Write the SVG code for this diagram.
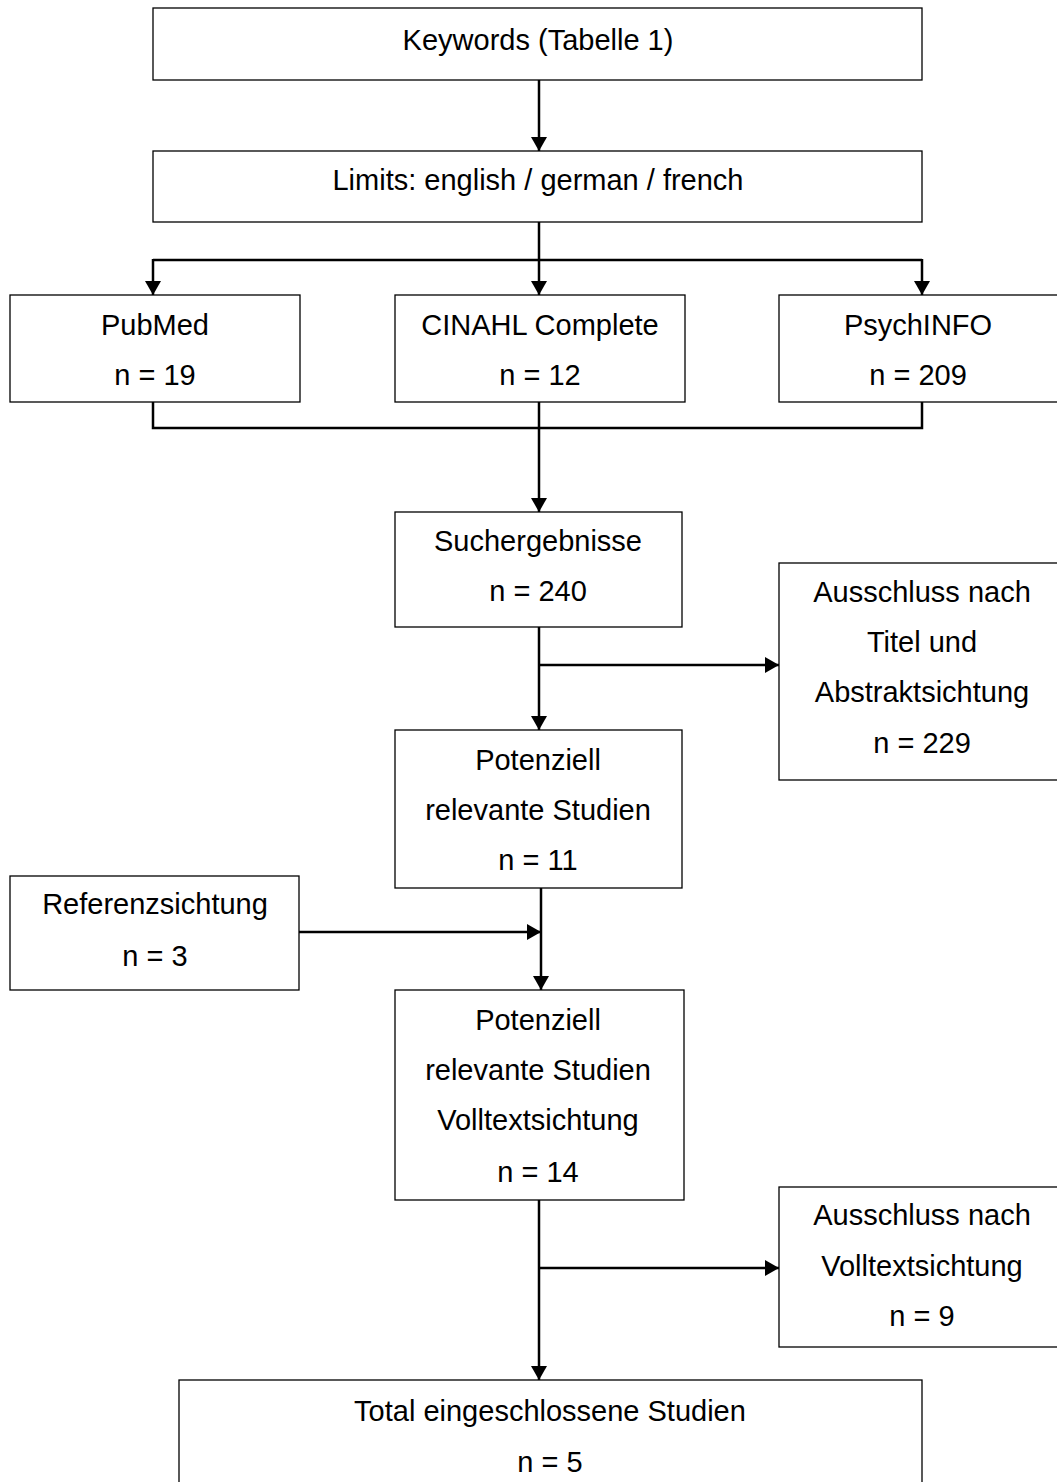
<svg xmlns="http://www.w3.org/2000/svg" width="1057" height="1482" viewBox="0 0 1057 1482">
<style>
.box{fill:#fff;stroke:#000;stroke-width:1.3}
.t{font-family:"Liberation Sans",Arial,sans-serif;font-size:29px;fill:#000;text-anchor:middle}
.c{fill:none;stroke:#000;stroke-width:2.5}
</style>
<defs>
<marker id="a" viewBox="0 0 14 16" refX="14" refY="8" markerWidth="14" markerHeight="16" orient="auto" markerUnits="userSpaceOnUse">
<path d="M0,0 L14,8 L0,16 Z" fill="#000"/>
</marker>
</defs>
<rect width="1057" height="1482" fill="#fff"/>
<g id="connectors">
<path class="c" d="M539,80 V151" marker-end="url(#a)"/>
<path class="c" d="M539,222 V295" marker-end="url(#a)"/>
<path class="c" d="M153,260 H922"/>
<path class="c" d="M153,259 V295" marker-end="url(#a)"/>
<path class="c" d="M922,259 V295" marker-end="url(#a)"/>
<path class="c" d="M153,402 V428 H922 V402"/>
<path class="c" d="M539,402 V512" marker-end="url(#a)"/>
<path class="c" d="M539,627 V730" marker-end="url(#a)"/>
<path class="c" d="M539,665 H779" marker-end="url(#a)"/>
<path class="c" d="M541,888 V990" marker-end="url(#a)"/>
<path class="c" d="M299,932 H541" marker-end="url(#a)"/>
<path class="c" d="M539,1200 V1380" marker-end="url(#a)"/>
<path class="c" d="M539,1268 H779" marker-end="url(#a)"/>
</g>
<g id="n1"><rect class="box" x="153" y="8" width="769" height="72"/><text class="t" x="538" y="50">Keywords (Tabelle 1)</text></g>
<g id="n2"><rect class="box" x="153" y="151" width="769" height="71"/><text class="t" x="538" y="190">Limits: english / german / french</text></g>
<g id="n3"><rect class="box" x="10" y="295" width="290" height="107"/><text class="t" x="155" y="335">PubMed</text><text class="t" x="155" y="385">n = 19</text></g>
<g id="n4"><rect class="box" x="395" y="295" width="290" height="107"/><text class="t" x="540" y="335">CINAHL Complete</text><text class="t" x="540" y="385">n = 12</text></g>
<g id="n5"><rect class="box" x="779" y="295" width="290" height="107"/><text class="t" x="918" y="335">PsychINFO</text><text class="t" x="918" y="385">n = 209</text></g>
<g id="n6"><rect class="box" x="395" y="512" width="287" height="115"/><text class="t" x="538" y="551">Suchergebnisse</text><text class="t" x="538" y="601">n = 240</text></g>
<g id="n7"><rect class="box" x="779" y="563" width="290" height="217"/><text class="t" x="922" y="602">Ausschluss nach</text><text class="t" x="922" y="652">Titel und</text><text class="t" x="922" y="702">Abstraktsichtung</text><text class="t" x="922" y="753">n = 229</text></g>
<g id="n8"><rect class="box" x="395" y="730" width="287" height="158"/><text class="t" x="538" y="770">Potenziell</text><text class="t" x="538" y="820">relevante Studien</text><text class="t" x="538" y="870">n = 11</text></g>
<g id="n9"><rect class="box" x="10" y="876" width="289" height="114"/><text class="t" x="155" y="914">Referenzsichtung</text><text class="t" x="155" y="966">n = 3</text></g>
<g id="n10"><rect class="box" x="395" y="990" width="289" height="210"/><text class="t" x="538" y="1030">Potenziell</text><text class="t" x="538" y="1080">relevante Studien</text><text class="t" x="538" y="1130">Volltextsichtung</text><text class="t" x="538" y="1182">n = 14</text></g>
<g id="n11"><rect class="box" x="779" y="1187" width="290" height="160"/><text class="t" x="922" y="1225">Ausschluss nach</text><text class="t" x="922" y="1276">Volltextsichtung</text><text class="t" x="922" y="1326">n = 9</text></g>
<g id="n12"><rect class="box" x="179" y="1380" width="743" height="120"/><text class="t" x="550" y="1421">Total eingeschlossene Studien</text><text class="t" x="550" y="1472">n = 5</text></g>
</svg>
